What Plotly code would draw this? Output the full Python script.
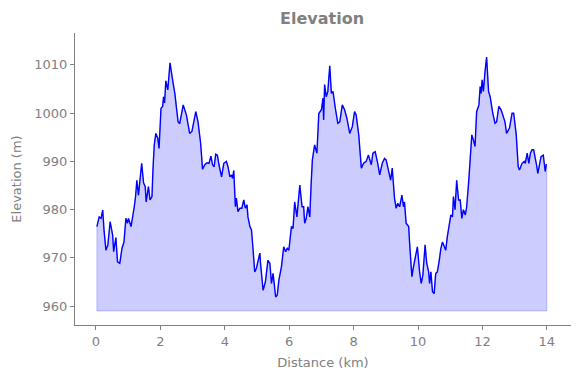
import plotly.graph_objects as go

distance_km = [0.03, 0.10, 0.16, 0.21, 0.25, 0.31, 0.37, 0.44, 0.52, 0.55, 0.62, 0.67, 0.74, 0.81, 0.87,
               0.93, 0.98, 1.01, 1.09, 1.14, 1.19, 1.23, 1.27, 1.32, 1.42, 1.48, 1.53, 1.56, 1.63, 1.68,
               1.74, 1.77, 1.81, 1.86, 1.92, 1.96, 2.02, 2.07, 2.10, 2.13, 2.17, 2.23, 2.30, 2.38, 2.45,
               2.55, 2.60, 2.71, 2.81, 2.91, 2.98, 3.10, 3.17, 3.25, 3.31, 3.38, 3.45, 3.51, 3.57, 3.62,
               3.67, 3.72, 3.77, 3.82, 3.90, 3.97, 4.05, 4.10, 4.16, 4.21, 4.24, 4.28, 4.33, 4.36, 4.41,
               4.47, 4.53, 4.59, 4.64, 4.69, 4.72, 4.78, 4.83, 4.88, 4.93, 4.98, 5.03, 5.09, 5.11, 5.14,
               5.19, 5.26, 5.34, 5.40, 5.45, 5.50, 5.58, 5.63, 5.68, 5.76, 5.83, 5.89, 5.94, 5.99, 6.07,
               6.12, 6.17, 6.24, 6.33, 6.40, 6.45, 6.48, 6.53, 6.58, 6.64, 6.68, 6.72, 6.79, 6.86, 6.92,
               7.00, 7.05, 7.07, 7.10, 7.15, 7.20, 7.26, 7.31, 7.36, 7.44, 7.51, 7.57, 7.65, 7.72, 7.79,
               7.88, 7.96, 8.03, 8.08, 8.16, 8.24, 8.31, 8.39, 8.46, 8.50, 8.55, 8.60, 8.67, 8.75, 8.81,
               8.89, 8.96, 9.01, 9.09, 9.15, 9.20, 9.27, 9.32, 9.37, 9.43, 9.50, 9.55, 9.58, 9.63, 9.71,
               9.74, 9.81, 9.86, 9.93, 9.98, 10.05, 10.10, 10.15, 10.22, 10.27, 10.33, 10.36, 10.40, 10.45, 10.50,
               10.55, 10.60, 10.66, 10.71, 10.76, 10.81, 10.86, 10.91, 10.97, 11.02, 11.07, 11.10, 11.15, 11.20, 11.26,
               11.31, 11.36, 11.41, 11.47, 11.51, 11.57, 11.62, 11.67, 11.72, 11.77, 11.82, 11.89, 11.93, 11.96, 11.99,
               12.03, 12.08, 12.13, 12.19, 12.24, 12.32, 12.39, 12.44, 12.51, 12.58, 12.65, 12.70, 12.75, 12.84, 12.92,
               12.97, 13.05, 13.11, 13.15, 13.23, 13.30, 13.33, 13.39, 13.44, 13.49, 13.54, 13.59, 13.64, 13.68, 13.72,
               13.77, 13.82, 13.89, 13.95, 13.98, 14.00]

elevation_m = [976.5, 978.5, 978.2, 979.9, 975.8, 971.6, 972.7, 977.5, 974.7, 971.3, 974.2, 969.2, 968.9, 972.0, 973.3,
               978.2, 977.2, 978.2, 976.5, 978.2, 980.6, 982.7, 986.1, 983.0, 989.6, 985.5, 984.8, 981.6, 984.8, 982.0,
               982.7, 988.2, 993.4, 995.8, 994.8, 992.7, 1001.0, 1001.4, 1003.4, 1002.1, 1006.7, 1004.8, 1010.4, 1006.9, 1004.1,
               998.2, 997.8, 1001.7, 999.6, 995.8, 996.2, 1000.3, 998.2, 993.8, 988.4, 989.3, 989.7, 989.6, 991.1, 989.3,
               988.9, 991.5, 991.3, 989.3, 986.8, 989.6, 990.0, 988.9, 986.8, 987.2, 986.5, 988.1, 980.6, 982.4, 979.6,
               980.3, 980.3, 982.0, 980.3, 981.0, 978.5, 976.5, 975.8, 971.6, 967.1, 967.8, 969.5, 971.0, 968.9, 966.1,
               963.3, 965.0, 969.5, 968.9, 964.7, 966.8, 961.9, 962.3, 965.4, 968.2, 972.3, 971.3, 972.0, 971.6, 976.5,
               976.1, 981.6, 978.5, 985.1, 980.6, 980.6, 977.2, 978.2, 980.6, 978.5, 985.1, 990.3, 993.4, 991.7, 999.9,
               1000.7, 1003.1, 998.6, 1005.9, 1003.4, 1004.5, 1009.8, 1004.1, 1004.5, 1000.7, 997.9, 998.2, 1001.7, 1000.7, 999.0,
               995.8, 997.2, 1000.3, 999.6, 995.5, 988.6, 989.6, 990.0, 991.3, 990.3, 989.3, 991.7, 992.0, 989.6, 987.2,
               989.6, 990.6, 990.3, 987.5, 986.1, 988.6, 982.4, 980.3, 981.3, 980.6, 983.0, 980.6, 981.6, 977.2, 976.5,
               973.0, 966.1, 968.2, 971.0, 972.3, 967.1, 964.7, 966.4, 972.7, 968.9, 967.1, 964.7, 967.1, 963.0, 962.6,
               966.8, 967.1, 969.5, 972.0, 973.3, 972.3, 971.6, 974.4, 976.5, 978.9, 978.5, 982.7, 980.0, 986.1, 982.0,
               982.0, 978.2, 980.0, 978.9, 980.6, 985.5, 991.3, 995.5, 994.4, 993.1, 1000.3, 1001.7, 1005.5, 1004.1, 1006.9,
               1004.5, 1008.6, 1011.6, 1004.5, 1003.4, 1000.0, 997.9, 998.2, 1001.4, 1000.7, 999.3, 998.2, 995.8, 996.9, 1000.0,
               1000.0, 995.5, 988.9, 988.2, 989.6, 990.0, 989.6, 991.7, 989.6, 991.7, 992.4, 992.4, 991.0, 989.3, 987.5,
               989.6, 991.0, 991.3, 987.9, 989.3, 989.3]

fill_base = 959.0
x_ticks = [0, 2, 4, 6, 8, 10, 12, 14]
y_ticks = [960, 970, 980, 990, 1000, 1010]

GRAY = "#808080"
FONT = "DejaVu Sans"

fig = go.Figure()
fig.add_trace(go.Scatter(
    x=[distance_km[0]] + distance_km + [distance_km[-1], distance_km[0]],
    y=[fill_base] + elevation_m + [fill_base, fill_base],
    fill="toself", fillcolor="rgba(0,0,255,0.2)",
    line=dict(color="rgba(0,0,255,0.2)", width=1),
    mode="lines", hoverinfo="skip", showlegend=False,
))
fig.add_trace(go.Scatter(
    x=distance_km, y=elevation_m, mode="lines",
    line=dict(color="#0000ff", width=1.4), showlegend=False,
))

axis_common = dict(
    showgrid=False, zeroline=False, showline=True, linecolor=GRAY, linewidth=1,
    ticks="outside", ticklen=4, tickcolor=GRAY, tickwidth=1, automargin=False,
    tickfont=dict(family=FONT, size=13, color=GRAY),
    title_font=dict(family=FONT, size=13, color=GRAY),
)

# page body has an 8px margin, so the figure is 8px smaller on each axis
fig.update_layout(
    width=572, height=370,
    margin=dict(l=67, r=9, t=25, b=53),
    paper_bgcolor="white", plot_bgcolor="white",
    font=dict(family=FONT, color=GRAY),
    title=dict(text="<b>Elevation</b>", x=0.549, xanchor="center", y=0.973, yanchor="middle",
               font=dict(family=FONT, size=16, color=GRAY)),
    xaxis=dict(range=[-0.65, 14.75], tickvals=x_ticks, title=dict(text="Distance (km)", standoff=10), **axis_common),
    yaxis=dict(range=[956.1, 1016.6], tickvals=y_ticks, title=dict(text="Elevation (m)", standoff=9), **axis_common),
)

fig.write_html("out.html")
